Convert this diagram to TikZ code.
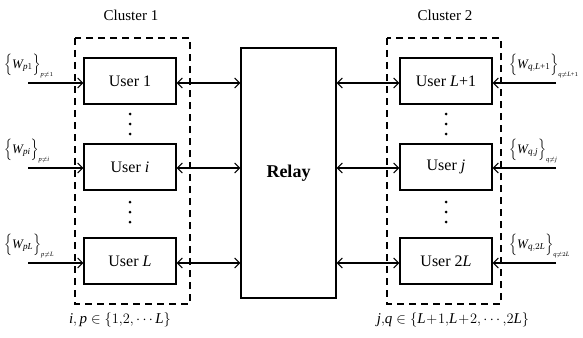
\documentclass[tikz,border=0pt]{standalone}
\usepackage{amsmath}
\usepackage{fontspec}
\setmainfont{Liberation Serif}
\usetikzlibrary{arrows.meta}
\newcommand{\vi}[1]{\textit{#1}}
\newcommand{\pl}{\text{+}}
% message set: braces around W with an inner and an outer index
\newcommand{\msg}[2]{\Big\{\vi{W}_{#1}\Big\}_{\scriptscriptstyle #2}}
\begin{document}
\begin{tikzpicture}[x=1pt,y=-1pt,
  userbox/.style={draw,line width=1.1pt,minimum width=92pt,minimum height=46pt,inner sep=0pt,font=\fontsize{16}{18}\selectfont},
  cluster/.style={draw,line width=1.4pt,dash pattern=on 7pt off 5pt},
  link/.style={line width=1.1pt,{Straight Barb[length=5pt,width=10pt]}-{Straight Barb[length=5pt,width=10pt]}},
  feed/.style={line width=1.1pt,-{Straight Barb[length=5pt,width=10pt]}},
  lbl/.style={anchor=base west,inner sep=0pt,font=\fontsize{13}{16}\selectfont},
  rng/.style={inner sep=0pt,font=\fontsize{15}{17}\selectfont},
  dot/.style={circle,fill,inner sep=0pt,minimum size=3pt}]
\useasboundingbox (0,0) rectangle (583,337);

% clusters
\draw[cluster] (75,38) rectangle (190,304);
\draw[cluster] (387,38) rectangle (501,304);
\node[font=\fontsize{15}{17}\selectfont] (c1) at (131,15) {Cluster 1};
\node[font=\fontsize{15}{17}\selectfont] (c2) at (445,15) {Cluster 2};

% relay
\node[draw,line width=1.1pt,minimum width=95pt,minimum height=250pt,inner sep=0pt,
      font=\fontsize{18}{20}\bfseries] (relay) at (288.5,173) {Relay};

% users
\node[userbox] (u1) at (130,81) {User 1};
\node[userbox] (ui) at (130,167) {User \vi{i}};
\node[userbox] (uL) at (130,261) {User \vi{L}};
\node[userbox] (v1) at (446,81) {User \vi{L}+1};
\node[userbox] (vj) at (446,167) {User \vi{j}};
\node[userbox] (vL) at (446,261) {User 2\vi{L}};

% vertical dots
\foreach \x in {130,446}{
  \foreach \y in {114,124,134,202,212,222}{
    \node[dot] at (\x,\y) {};
  }
}

% free ends of the feed arrows
\coordinate (a1) at (28,83);
\coordinate (ai) at (28,168);
\coordinate (aL) at (28,263);
\coordinate (b1) at (556,83);
\coordinate (bj) at (556,168);
\coordinate (bL) at (556,263);

\draw[feed] (a1) -- (a1 -| u1.west);
\draw[feed] (ai) -- (ai -| ui.west);
\draw[feed] (aL) -- (aL -| uL.west);
\draw[feed] (b1) -- (b1 -| v1.east);
\draw[feed] (bj) -- (bj -| vj.east);
\draw[feed] (bL) -- (bL -| vL.east);

% links to the relay
\draw[link] (a1 -| u1.east) -- (a1 -| relay.west);
\draw[link] (ai -| ui.east) -- (ai -| relay.west);
\draw[link] (aL -| uL.east) -- (aL -| relay.west);
\draw[link] (b1 -| relay.east) -- (b1 -| v1.west);
\draw[link] (bj -| relay.east) -- (bj -| vj.west);
\draw[link] (bL -| relay.east) -- (bL -| vL.west);

% message labels
\node[lbl] (w1) at (4,68) {$\msg{\vi{p}1}{\vi{p}\neq 1}$};
\node[lbl] (wi) at (4,153) {$\msg{\vi{pi}}{\vi{p}\neq \vi{i}}$};
\node[lbl] (wL) at (4,248) {$\msg{\vi{pL}}{\vi{p}\neq \vi{L}}$};
\node[lbl] (x1) at (509,68) {$\msg{\vi{q},\vi{L}\pl1}{\vi{q}\neq \vi{L}\pl1}$};
\node[lbl] (xj) at (509,153) {$\msg{\vi{q},\vi{j}}{\vi{q}\neq \vi{j}}$};
\node[lbl] (xL) at (509,248) {$\msg{\vi{q},2\vi{L}}{\vi{q}\neq 2\vi{L}}$};

% index ranges
\node[rng] (r1) at (120,320) {$\vi{i}{,}\,\vi{p}\in\{1{,}2{,}\cdots\vi{L}\}$};
\node[rng] (r2) at (453,320) {$\vi{j}{,}\vi{q}\in\{\vi{L}\!+\!1{,}\vi{L}\!+\!2{,}\cdots{,}2\vi{L}\}$};
\end{tikzpicture}
\end{document}
